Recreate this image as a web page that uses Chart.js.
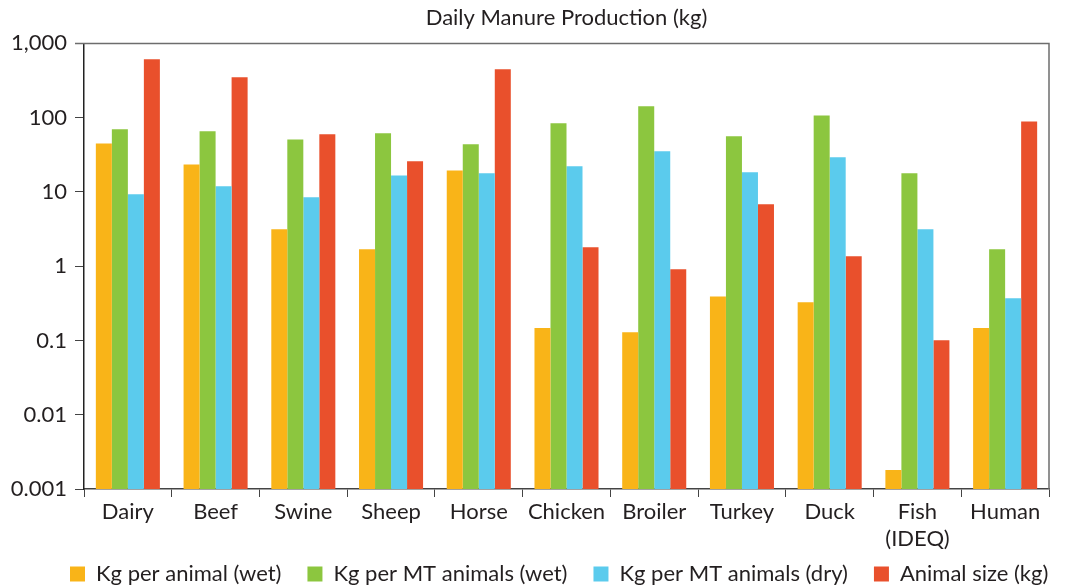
<!DOCTYPE html>
<html><head><meta charset="utf-8">
<script src="https://cdn.jsdelivr.net/npm/chart.js@4"></script>
<style>html,body{margin:0;padding:0;background:#fff}#wrap{width:1075px;height:587px}</style>
</head><body><div id="wrap"><canvas id="c" width="1075" height="587"></canvas></div>
<script>
const categories = ['Dairy','Beef','Swine','Sheep','Horse','Chicken','Broiler','Turkey','Duck',['Fish','(IDEQ)'],'Human'];
const seriesNames = ['Kg per animal (wet)','Kg per MT animals (wet)','Kg per MT animals (dry)','Animal size (kg)'];
const kgPerAnimalWet = [45, 23.5, 3.15, 1.69, 19.5, 0.147, 0.129, 0.39, 0.328, 0.0018, 0.147];
const kgPerMTWet     = [70, 65.5, 51, 61.5, 43.8, 84, 142, 56, 107, 17.8, 1.69];
const kgPerMTDry     = [9.3, 11.9, 8.5, 16.7, 17.8, 22.1, 35.2, 18.4, 29.2, 3.15, 0.37];
const animalSize     = [610, 349, 59.7, 25.9, 447, 1.8, 0.91, 6.8, 1.36, 0.101, 89];
const yTickValues = [0.001, 0.01, 0.1, 1, 10, 100, 1000];
const yTickLabels = ['0.001','0.01','0.1','1','10','100','1,000'];
const colors = ['#F9B418','#8CC63F','#5BCBED','#E9502C'];
const FONT = 'Lato, "Open Sans", sans-serif';
const TXT = '#231F20';

const frame = {
  id:'frame',
  afterLayout(chart){
    Object.values(chart.scales).forEach(s => { s._computeLabelArea = () => undefined; });
  },
  afterDatasetsDraw(chart){
    const {ctx, chartArea:a} = chart;
    ctx.save();
    ctx.strokeStyle = '#6d6d6d';
    ctx.lineWidth = 1.5;
    ctx.beginPath();
    ctx.moveTo(a.left - 9, a.top); ctx.lineTo(a.right, a.top); ctx.lineTo(a.right, a.bottom);
    ctx.stroke();
    ctx.restore();
  }
};

new Chart(document.getElementById('c'), {
  type:'bar',
  data:{
    labels: categories,
    datasets:[kgPerAnimalWet,kgPerMTWet,kgPerMTDry,animalSize].map((d,i)=>({
      label: seriesNames[i], data: d, backgroundColor: colors[i], borderWidth:0,
      categoryPercentage:0.73, barPercentage:1.0
    }))
  },
  options:{
    responsive:false, animation:false,
    layout:{padding:{left:44,right:0,top:0,bottom:0}},
    plugins:{
      title:{display:true, fullSize:false, text:'Daily Manure Production (kg)', color:TXT,
        font:{family:FONT,size:22,weight:'normal'}, padding:{top:5,bottom:12}},
      legend:{position:'bottom', align:'start', maxHeight:50,
        labels:{color:TXT, font:{family:FONT,size:22}, boxWidth:15, boxHeight:15, padding:26}},
      tooltip:{enabled:false}
    },
    scales:{
      x:{
        grid:{display:true, drawOnChartArea:false, drawTicks:true, tickLength:8, color:'#444', offset:true},
        border:{display:true, color:'#444', width:1.5},
        ticks:{color:TXT, font:{family:FONT,size:22}, padding:2, maxRotation:0, autoSkip:false},
        afterFit(s){ s.height = 48; s.paddingRight = 26; }
      },
      y:{
        type:'logarithmic', min:0.001, max:1000,
        grid:{display:true, drawOnChartArea:false, drawTicks:true, tickLength:9, color:'#444'},
        border:{display:true, color:'#222', width:1.5},
        afterBuildTicks(s){ s.ticks = yTickValues.map(v=>({value:v})); },
        ticks:{color:TXT, font:{family:FONT,size:22}, padding:8,
          callback:(v)=>{const i=yTickValues.indexOf(v); return i>=0?yTickLabels[i]:'';}},
        afterFit(s){ s.width = 40; }
      }
    }
  },
  plugins:[frame]
});
</script></body></html>
